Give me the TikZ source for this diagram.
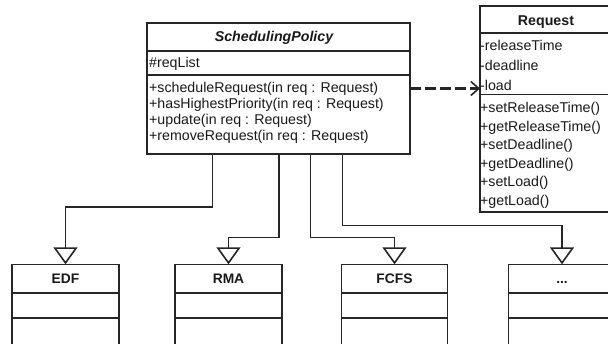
\documentclass[tikz,border=0pt]{standalone}
\usepackage{fontspec}
\setmainfont{Liberation Sans}
\usetikzlibrary{arrows.meta}
\begin{document}
\begin{tikzpicture}[x=1pt,y=-1pt,
  ink/.style={draw=black!85, line width=1.6pt},
  classbox/.style={ink, rectangle, anchor=north west, inner sep=0pt, outer sep=0pt},
  member/.style={anchor=base west, inner sep=0pt, text=black!90,
    font=\fontsize{14.2}{16}\selectfont},
  classname/.style={anchor=base, inner sep=0pt, text=black!90,
    font=\fontsize{13.8}{16}\selectfont\bfseries},
  inherit/.style={ink, -{Triangle[open, length=17pt, width=24pt, fill=white]}},
  uses/.style={draw=black!85, line width=2.8pt, dash pattern=on 11pt off 4pt,
    -{Straight Barb[length=8pt, width=14pt, line width=1.6pt]}}
]
\useasboundingbox (0,0) rectangle (608,343);
\clip (0,0) rectangle (608,343);

% abstract policy class
\node[classbox, minimum width=263pt, minimum height=131pt] (sp) at (147,23) {};
\draw[ink] ([yshift=-28pt]sp.north west) -- ([yshift=-28pt]sp.north east);
\draw[ink] ([yshift=-52pt]sp.north west) -- ([yshift=-52pt]sp.north east);
\node[classname, font=\fontsize{14.2}{16}\selectfont\bfseries\itshape] (sp-name) at (274,41.5) {SchedulingPolicy};
\node[member] (sp-a1) at (149,67.5) {\#reqList};
\node[member] (sp-m1) at (149,92.8) {+scheduleRequest(in req : Request)};
\node[member] (sp-m2) at (149,108.5) {+hasHighestPriority(in req : Request)};
\node[member] (sp-m3) at (149,124.2) {+update(in req : Request)};
\node[member] (sp-m4) at (149,140) {+removeRequest(in req : Request)};

% request class
\node[classbox, minimum width=132pt, minimum height=206pt] (req) at (480,6) {};
\draw[ink] ([yshift=-27pt]req.north west) -- ([yshift=-27pt]req.north east);
\draw[ink] ([yshift=-88.5pt]req.north west) -- ([yshift=-88.5pt]req.north east);
\node[classname, font=\fontsize{14.2}{16}\selectfont\bfseries] (req-name) at (546,25) {Request};
\node[member] (req-a1) at (480,50.5) {-releaseTime};
\node[member] (req-a2) at (480,70) {-deadline};
\node[member] (req-a3) at (480,90) {-load};
\node[member] (req-m1) at (480,112.5) {+setReleaseTime()};
\node[member] (req-m2) at (480,131) {+getReleaseTime()};
\node[member] (req-m3) at (480,149.5) {+setDeadline()};
\node[member] (req-m4) at (480,168) {+getDeadline()};
\node[member] (req-m5) at (480,186.5) {+setLoad()};
\node[member] (req-m6) at (480,205) {+getLoad()};

% concrete policies
\newcommand\policybox[4]{%
  \node[classbox, minimum width=#3pt, minimum height=81pt] (#1) at (#2,264.3) {};
  \draw[ink] ([yshift=-28.4pt]#1.north west) -- ([yshift=-28.4pt]#1.north east);
  \draw[ink] ([yshift=-53.4pt]#1.north west) -- ([yshift=-53.4pt]#1.north east);
  \node[classname] (#1-name) at ([yshift=-19.2pt]#1.north) {#4};
}
\policybox{edf}{12}{107}{EDF}
\policybox{rma}{175}{107}{RMA}
\policybox{fcfs}{341.5}{106}{FCFS}
\policybox{dots}{508.5}{107}{...}

% generalisation links
\draw[inherit] ([xshift=65.5pt]sp.south west) -- ++(0,53) -| (edf.north);
\draw[inherit] ([xshift=132pt]sp.south west) -- ++(0,83.5) -| (rma.north);
\draw[inherit] ([xshift=163.5pt]sp.south west) -- ++(0,83.5) -| (fcfs.north);
\draw[inherit] ([xshift=195.5pt]sp.south west) -- ++(0,71.5) -| (dots.north);

% dependency on Request
\draw[uses] (sp.east) -- (sp.east -| req.west);
\end{tikzpicture}
\end{document}
